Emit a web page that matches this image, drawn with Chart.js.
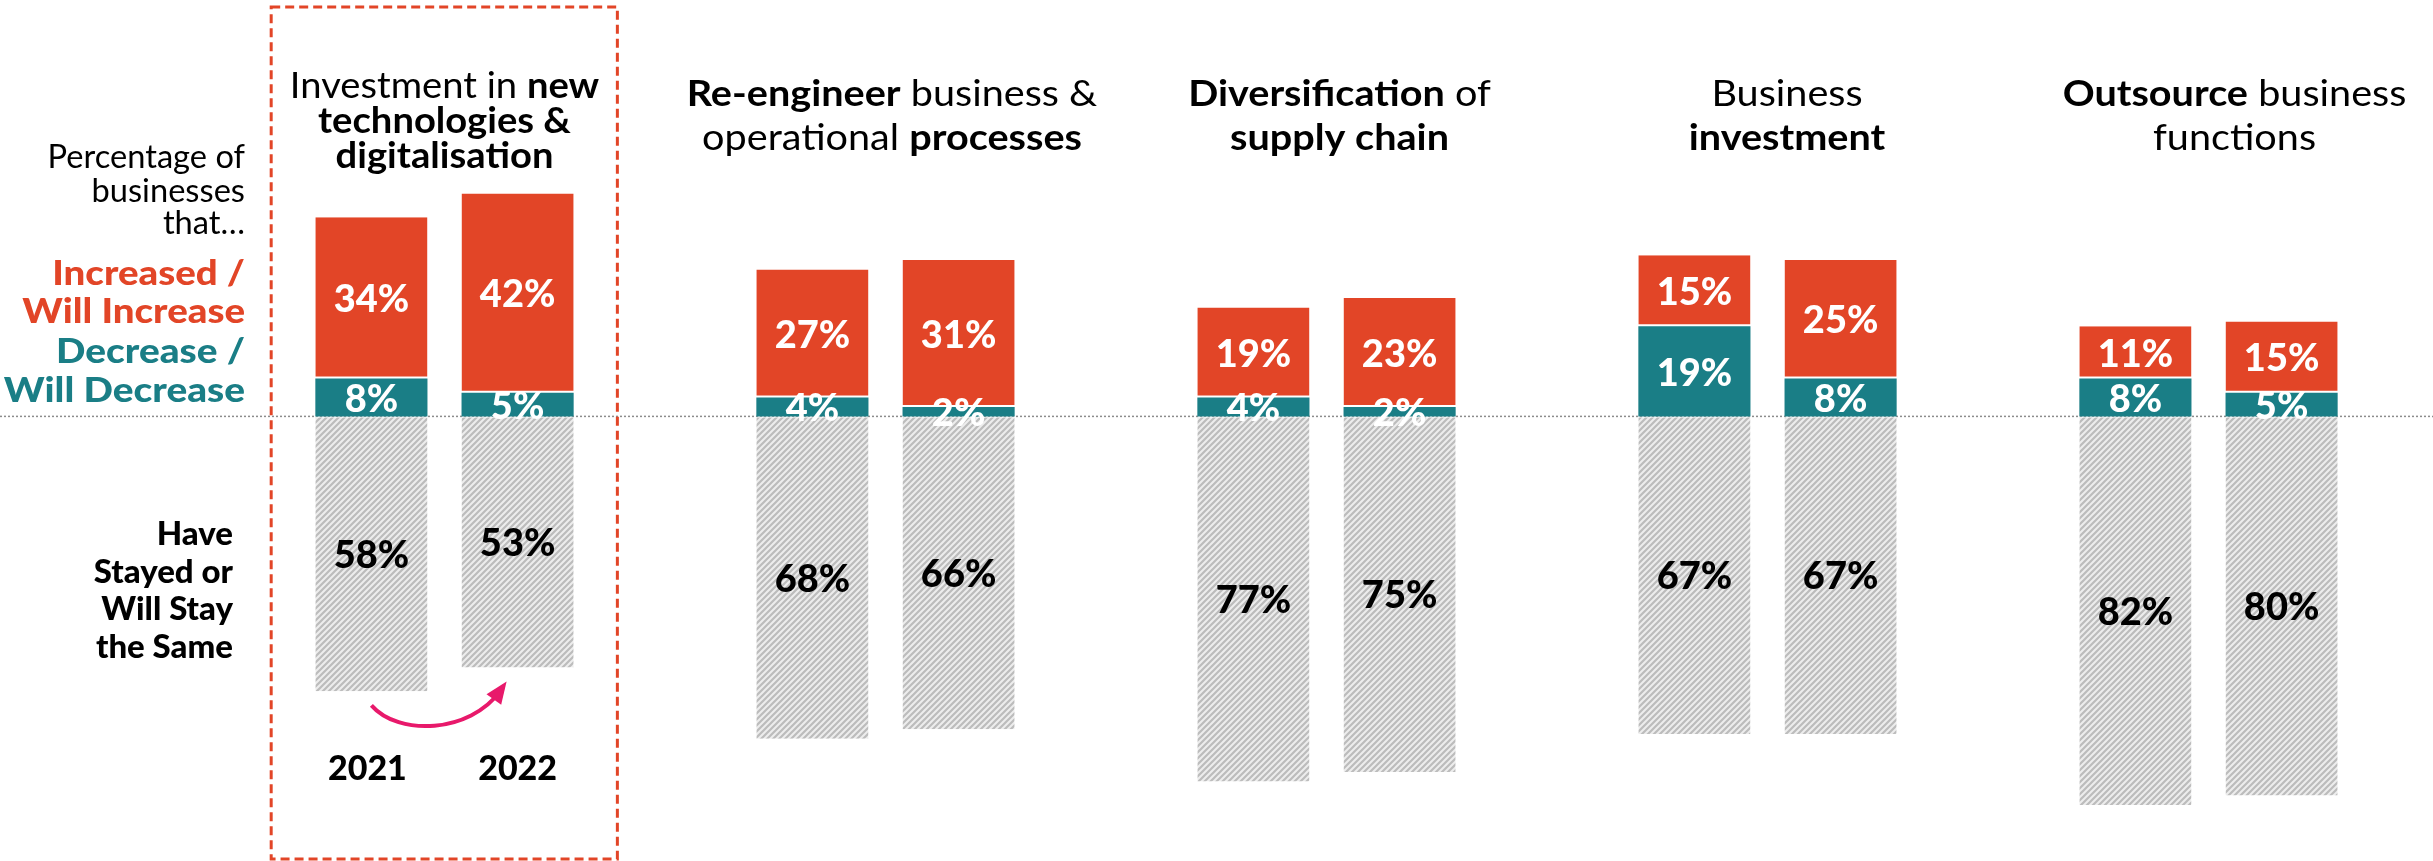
<!DOCTYPE html>
<html>
<head>
<meta charset="utf-8">
<script src="https://cdn.jsdelivr.net/npm/chart.js@4.4.1/dist/chart.umd.min.js"></script>
<style>
  html, body { margin: 0; padding: 0; background: #fff; }
  #wrap { width: 2433px; height: 861px; }
</style>
</head>
<body>
<div id="wrap"><canvas id="chart" width="2433" height="861"></canvas></div>
<script>
// survey answers, percent of businesses
const categories = ['Investment in new technologies & digitalisation', 'Re-engineer business & operational processes', 'Diversification of supply chain', 'Business investment', 'Outsource business functions'];
const years = ['2021', '2022'];
const increase2021 = [34, 27, 19, 15, 11];
const increase2022 = [42, 31, 23, 25, 15];
const decrease2021 = [8, 4, 4, 19, 8];
const decrease2022 = [5, 2, 2, 8, 5];
const same2021 = [58, 68, 77, 67, 82];
const same2022 = [53, 66, 75, 67, 80];

// category headings, each line split in [text, bold] runs
const headingLines = [
  [[['Investment in ', false], ['new', true]], [['technologies &', true]], [['digitalisation', true]]],
  [[['Re-engineer', true], [' business &', false]], [['operational ', false], ['processes', true]]],
  [[['Diversification', true], [' of', false]], [['supply chain', true]]],
  [[['Business', false]], [['investment', true]]],
  [[['Outsource', true], [' business', false]], [['functions', false]]]
];

const RED = '#e24527';
const TEAL = '#1a7e86';
const PINK = '#e8196b';
const FONT = 'Lato, "Open Sans", sans-serif';

// grey hatch for the "stayed the same" bars
function makeHatch() {
  const c = document.createElement('canvas');
  c.width = 6; c.height = 6;
  const g = c.getContext('2d');
  g.fillStyle = '#ededed';
  g.fillRect(0, 0, 6, 6);
  g.strokeStyle = '#bcbcbc';
  g.lineWidth = 2.2;
  g.beginPath();
  g.moveTo(0, 6); g.lineTo(6, 0);
  g.moveTo(-3, 3); g.lineTo(3, -3);
  g.moveTo(3, 9); g.lineTo(9, 3);
  g.stroke();
  return g.createPattern(c, 'repeat');
}
const hatch = makeHatch();

const neg = arr => arr.map(v => -v);

// text drawn a little wider than the font's own proportions
function wideText(ctx, t, x, y, stretch) {
  ctx.save();
  ctx.translate(x, y);
  ctx.scale(stretch, 1);
  ctx.fillText(t, 0, 0);
  ctx.restore();
}

function drawRuns(ctx, runs, cx, y, size, stretch) {
  const fonts = runs.map(r => (r[1] ? '700 ' : '400 ') + size + 'px ' + FONT);
  let total = 0;
  const widths = runs.map((r, i) => { ctx.font = fonts[i]; const w = ctx.measureText(r[0]).width * stretch; total += w; return w; });
  let x = cx - total / 2;
  runs.forEach((r, i) => {
    ctx.font = fonts[i];
    wideText(ctx, r[0], x, y, stretch);
    x += widths[i];
  });
}

function rightText(ctx, lines, x, ys, font, color, stretch) {
  ctx.font = font;
  ctx.fillStyle = color;
  ctx.textAlign = 'right';
  lines.forEach((t, i) => wideText(ctx, t, x, ys[i], stretch));
}

const backdrop = {
  id: 'backdrop',
  beforeDatasetsDraw(chart) {
    const ctx = chart.ctx;
    const y0 = chart.scales.y.getPixelForValue(0);
    ctx.save();
    ctx.strokeStyle = '#8c8c8c';
    ctx.lineWidth = 1.5;
    ctx.setLineDash([2, 2]);
    ctx.beginPath();
    ctx.moveTo(0, y0);
    ctx.lineTo(chart.width, y0);
    ctx.stroke();
    ctx.restore();
  }
};

const annotations = {
  id: 'annotations',
  afterDatasetsDraw(chart) {
    const ctx = chart.ctx;
    const xs = chart.scales.x;
    ctx.save();

    // value labels centred in each segment
    ctx.textAlign = 'center';
    ctx.textBaseline = 'middle';
    ctx.font = '900 38px ' + FONT;
    chart.data.datasets.forEach((ds, i) => {
      chart.getDatasetMeta(i).data.forEach((bar, j) => {
        const p = bar.getCenterPoint();
        ctx.fillStyle = ds.labelColor;
        ctx.fillText(Math.abs(ds.data[j]) + '%', p.x, p.y + 2);
      });
    });

    // headings over each pair of bars, spaced slightly wider than the bars
    ctx.textAlign = 'left';
    ctx.textBaseline = 'alphabetic';
    ctx.fillStyle = '#000';
    headingLines.forEach((lines, i) => {
      const cx = xs.getPixelForValue(i) + i * 6.5;
      const first = lines.length > 2 ? 98 : 106;
      const step = lines.length > 2 ? 35 : 44;
      lines.forEach((runs, k) => drawRuns(ctx, runs, cx, first + k * step, 36, lines.length > 2 ? 1.06 : 1.1));
    });

    // left-hand key
    rightText(ctx, ['Percentage of', 'businesses', 'that\u2026'], 245, [168, 202, 234], '400 32px ' + FONT, '#000', 1.02);
    rightText(ctx, ['Increased /', 'Will Increase'], 245, [285, 323], '900 34px ' + FONT, RED, 1.13);
    rightText(ctx, ['Decrease /', 'Will Decrease'], 245, [363, 402], '900 34px ' + FONT, TEAL, 1.14);
    rightText(ctx, ['Have', 'Stayed or', 'Will Stay', 'the Same'], 233, [545, 583, 620, 658], '900 33px ' + FONT, '#000', 1);

    // years under the first pair, with the arrow between them
    const b1 = chart.getDatasetMeta(2).data[0];
    const b2 = chart.getDatasetMeta(5).data[0];
    ctx.textAlign = 'center';
    ctx.font = '900 34px ' + FONT;
    ctx.fillStyle = '#000';
    ctx.fillText(years[0], b1.x - 4, 780);
    ctx.fillText(years[1], b2.x, 780);

    const sx = b1.x, sy = b1.y + 14;
    const tx = b2.x - 11, ty = b2.y + 14;
    const c2x = tx - 37, c2y = ty + 52;
    ctx.strokeStyle = PINK;
    ctx.fillStyle = PINK;
    ctx.lineWidth = 4;
    ctx.beginPath();
    ctx.moveTo(sx, sy);
    ctx.bezierCurveTo(sx + 27, sy + 31, c2x, c2y, tx - 6, ty + 9);
    ctx.stroke();
    const dx = tx - c2x, dy = ty - c2y, len = Math.hypot(dx, dy);
    const ux = dx / len, uy = dy / len;
    ctx.beginPath();
    ctx.moveTo(tx, ty);
    ctx.lineTo(tx - ux * 22 - uy * 9, ty - uy * 22 + ux * 9);
    ctx.lineTo(tx - ux * 22 + uy * 9, ty - uy * 22 - ux * 9);
    ctx.closePath();
    ctx.fill();

    // dashed frame round the first category
    const cw = (xs.right - xs.left) / categories.length;
    const c0 = xs.getPixelForValue(0);
    ctx.strokeStyle = RED;
    ctx.lineWidth = 3;
    ctx.setLineDash([9, 5]);
    ctx.strokeRect(c0 - cw * 0.393, 7, cw * 0.785, 852);
    ctx.restore();
  }
};

function seg(label, data, stack, color, labelColor, border) {
  return {
    label: label,
    data: data,
    stack: stack,
    backgroundColor: color,
    labelColor: labelColor,
    borderColor: '#fff',
    borderWidth: border,
    borderSkipped: false,
    categoryPercentage: 0.663,
    barPercentage: 0.767
  };
}

new Chart(document.getElementById('chart'), {
  type: 'bar',
  data: {
    labels: categories,
    datasets: [
      seg('Decrease 2021', decrease2021, years[0], TEAL, '#fff', 0),
      seg('Increase 2021', increase2021, years[0], RED, '#fff', { top: 0, left: 0, right: 0, bottom: 2 }),
      seg('Same 2021', neg(same2021), years[0], hatch, '#000', { top: 1, left: 0, right: 0, bottom: 0 }),
      seg('Decrease 2022', decrease2022, years[1], TEAL, '#fff', 0),
      seg('Increase 2022', increase2022, years[1], RED, '#fff', { top: 0, left: 0, right: 0, bottom: 2 }),
      seg('Same 2022', neg(same2022), years[1], hatch, '#000', { top: 1, left: 0, right: 0, bottom: 0 })
    ]
  },
  options: {
    responsive: false,
    animation: false,
    layout: { padding: { left: 224, right: 4, top: 132, bottom: 18 } },
    plugins: { legend: { display: false }, tooltip: { enabled: false } },
    scales: {
      x: { display: false, stacked: true, grid: { display: false } },
      y: { display: false, stacked: true, min: -90, max: 60, grid: { display: false } }
    }
  },
  plugins: [backdrop, annotations]
});
</script>
</body>
</html>
